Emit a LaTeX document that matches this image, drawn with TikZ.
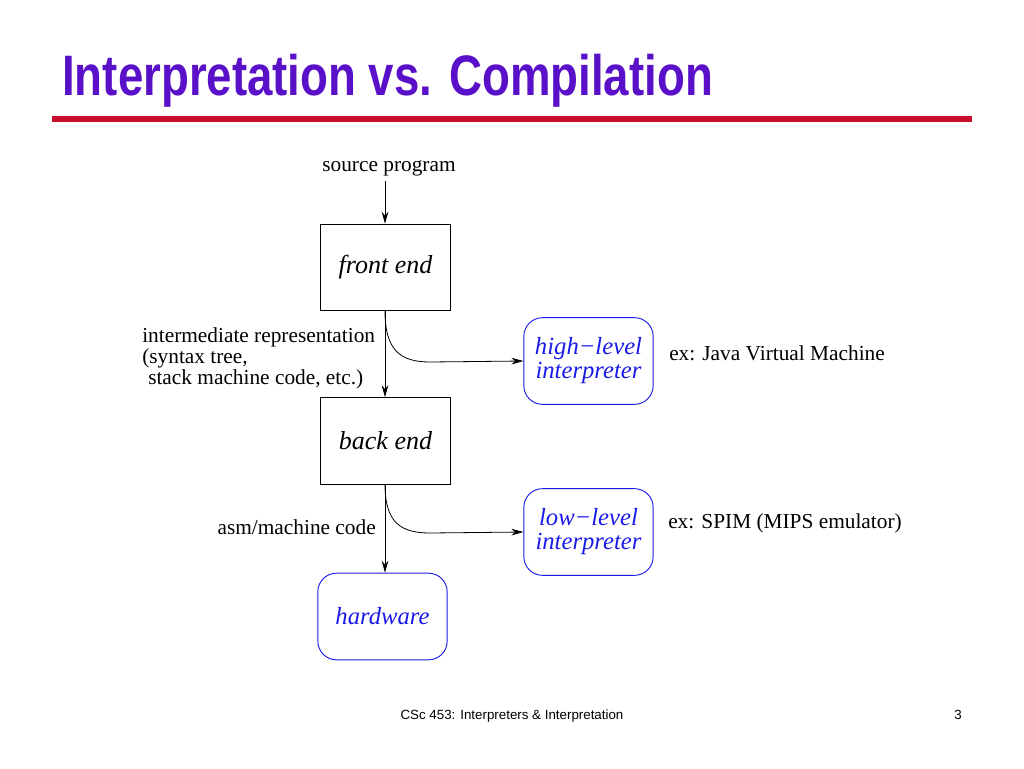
\documentclass[tikz,border=0pt]{standalone}
\usepackage{fontspec}
\setmainfont{Liberation Serif}
\newfontfamily\arialf{Liberation Sans}
\usetikzlibrary{arrows.meta}
\definecolor{ttl}{HTML}{5A10C8}
\definecolor{rl}{HTML}{C8102E}
\definecolor{bl}{HTML}{1A1AE6}
\begin{document}
\begin{tikzpicture}[x=0.75pt,y=-0.75pt,
  sq/.style={draw,line width=0.7pt,minimum width=97pt,minimum height=65pt,font=\fontsize{19.5}{20}\selectfont\itshape},
  rb/.style={draw=bl,text=bl,rounded corners=14pt,line width=0.7pt,minimum width=97pt,minimum height=65pt,align=center,font=\fontsize{18.5}{18}\selectfont\itshape},
  lab/.style={font=\fontsize{16}{18}\selectfont,inner sep=0pt},
  arr/.style={-{Stealth[length=9pt,width=5pt]},line width=0.6pt}]
\useasboundingbox (0,0) rectangle (1024,768);
\node[anchor=base west,inner sep=0pt,text=ttl] (title) at (62,95) {\resizebox{488pt}{!}{\scalebox{1}[1.25]{\arialf\bfseries\fontsize{34}{36}\selectfont Interpretation vs. Compilation}}};
\fill[rl] (52,116) rectangle (972,122);
\node[lab,anchor=base] (src) at (389,171) {source program};
\node[sq] (fe) at (385.5,267.5) {front end};
\node[sq] (be) at (385.5,441) {back end};
\node[rb] (hw) at (382.5,616.5) {hardware};
\node[rb] (hi) at (588.5,361) {high\textminus level\\interpreter};
\node[rb] (lo) at (588.5,532) {low\textminus level\\interpreter};
\coordinate (s0) at (385,181);
\draw[arr] (s0) -- (fe.north -| s0);
\draw[arr] (fe.south -| s0) -- (be.north -| s0);
\draw[arr] (be.south -| s0) -- (hw.north -| s0);
\coordinate (c1) at (385,311);
\draw[arr] (c1) .. controls (385,350) and (400,362) .. (430,362) -- (hi.west);
\coordinate (c2) at (385,484);
\draw[arr] (c2) .. controls (385,522) and (400,533) .. (430,533) -- (lo.west);
\node[lab,anchor=base west] (ir1) at (142,342) {intermediate representation};
\node[lab,anchor=base west] (ir2) at (142,363) {(syntax tree,};
\node[lab,anchor=base west] (ir3) at (148,384) {stack machine code, etc.)};
\node[lab,anchor=base east] (asm) at (376,534) {asm/machine code};
\node[lab,anchor=base west] (ex1) at (669,360) {ex: Java Virtual Machine};
\node[lab,anchor=base west] (ex2) at (668,528) {ex: SPIM (MIPS emulator)};
\node[anchor=base,inner sep=0pt,font=\arialf\fontsize{10}{12}\selectfont] (ft) at (512,719) {CSc 453: Interpreters \& Interpretation};
\node[anchor=base,inner sep=0pt,font=\arialf\fontsize{10}{12}\selectfont] (pg) at (958,719) {3};
\end{tikzpicture}
\end{document}
